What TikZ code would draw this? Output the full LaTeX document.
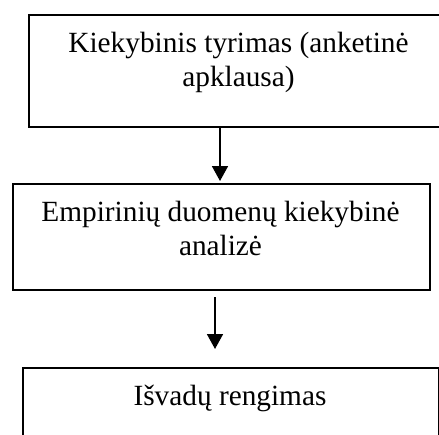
\documentclass[tikz,border=0pt]{standalone}
\usepackage{fontspec}
\setmainfont{Liberation Serif}
\usetikzlibrary{arrows.meta}

\begin{document}
\begin{tikzpicture}[x=1pt, y=1pt,
  box/.style={draw, line width=1.8pt, inner sep=0pt, anchor=north west},
  txt/.style={align=center, inner sep=0pt, anchor=north,
    font=\fontsize{29.3}{34}\selectfont},
  arr/.style={line width=1.8pt, -{Triangle[length=15pt, width=16pt]}}]

\def\W{439};
\def\H{-434};

\useasboundingbox (0, 0) rectangle (\W, \H);
\clip (0, 0) rectangle (\W, \H);

% boxes
\node[box, minimum width=421pt, minimum height=112pt] (analysis) at (28, -14) {};
\node[box, minimum width=417pt, minimum height=106pt] (empirical) at (12, -183) {};
\node[box, minimum width=416pt, minimum height=110pt] (conclusions) at (22, -367) {};

% texts
\node[txt] (analysistext) at (238.5, -32) {Kiekybinis tyrimas (anketinė\\apklausa)};
\node[txt] (empiricaltext) at (220.5, -201) {Empirinių duomenų kiekybinė\\analizė};
\node[txt] (conclusionstext) at (230, -385) {Išvadų rengimas};

% arrows
\coordinate (firststart) at (220, -126);
\coordinate (firstend) at (220, -181);
\coordinate (secondstart) at (215, -297);
\coordinate (secondend) at (215, -349);

\draw[arr] (firststart) -- (firstend);
\draw[arr] (secondstart) -- (secondend);

\end{tikzpicture}
\end{document}
